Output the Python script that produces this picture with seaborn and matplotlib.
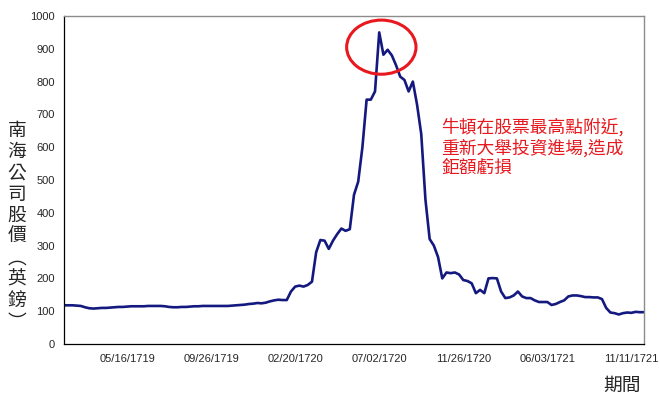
import numpy as np
import pandas as pd
import seaborn as sns
import matplotlib.pyplot as plt
from matplotlib.patches import Ellipse

# %% Data (South Sea Company share price)
price = [118, 118, 118, 117, 116, 112, 109, 108, 109, 110,
         110, 111, 112, 113, 113, 114, 115, 115, 115, 115,
         116, 116, 116, 116, 115, 113, 112, 112, 113, 113,
         114, 115, 115, 116, 116, 116, 116, 116, 116, 116,
         117, 118, 119, 120, 122, 123, 125, 124, 126, 130,
         133, 135, 134, 134, 160, 175, 178, 175, 180, 190,
         280, 317, 315, 290, 315, 335, 352, 345, 350, 455,
         495, 600, 745, 745, 770, 950, 882, 897, 880, 850,
         815, 805, 770, 800, 730, 640, 440, 320, 300, 265,
         200, 218, 216, 218, 212, 195, 192, 185, 155, 165,
         155, 200, 201, 200, 160, 140, 142, 148, 160, 145,
         140, 140, 133, 128, 128, 128, 119, 122, 128, 133,
         145, 148, 148, 146, 143, 143, 142, 142, 137, 110,
         96, 94, 90, 94, 96, 95, 98, 97, 97]

tick_pos = [15, 35, 55, 75, 95, 115, 135]
tick_labels = ["05/16/1719", "09/26/1719", "02/20/1720", "07/02/1720",
               "11/26/1720", "06/03/1721", "11/11/1721"]

y_label = "南海公司股價︵英鎊︶"
note = "牛頓在股票最高點附近,\n重新大舉投資進場,造成\n鉅額虧損"

df = pd.DataFrame({"idx": np.arange(len(price)), "price": price})

# %% Plot
sns.set_style("white")
plt.rcParams['font.family'] = ['Liberation Sans', 'Noto Sans CJK TC', 'DejaVu Sans']

fig = plt.figure(figsize=(6.6, 4), dpi=100)
ax = fig.add_axes([64 / 660, 56 / 400, 580 / 660, 328 / 400])

sns.lineplot(data=df, x="idx", y="price", ax=ax, color='#14197f', linewidth=1.9)

ax.set_xlim(0, len(price) - 1)
ax.set_ylim(0, 1000)
ax.set_yticks(np.arange(0, 1001, 100))
ax.set_xticks([0] + tick_pos)
ax.set_xticklabels([""] + tick_labels)
ax.tick_params(axis='both', direction='out', length=3.5, width=0.8,
               color='black', labelsize=8, pad=3)
ax.tick_params(axis='x', pad=4)
ax.set_xlabel("")
ax.set_ylabel("")

for side in ['left', 'bottom']:
    ax.spines[side].set_color('black')
    ax.spines[side].set_linewidth(0.9)
for side in ['top', 'right']:
    ax.spines[side].set_color('#8c8c8c')
    ax.spines[side].set_linewidth(1.0)

# red circle round the peak
ax.add_patch(Ellipse((75.5, 905), width=16.5, height=165, fill=False,
                     edgecolor='#e8191e', linewidth=2.2, zorder=5))

cjk = ['Noto Sans CJK TC', 'DejaVu Sans']
ax.text(0.65, 0.69, note, transform=ax.transAxes, color='#e8191e',
        fontsize=12.8, family=cjk, va='top', ha='left', linespacing=1.15)

fig.text(17 / 660, (400 - 226) / 400, "\n".join(y_label), family=cjk, fontsize=13.5,
         ha='center', va='center', linespacing=1.02)
fig.text(622 / 660, 15 / 400, "期間", family=cjk, fontsize=13.5,
         ha='center', va='center')

fig.savefig("out.png", dpi=100)
